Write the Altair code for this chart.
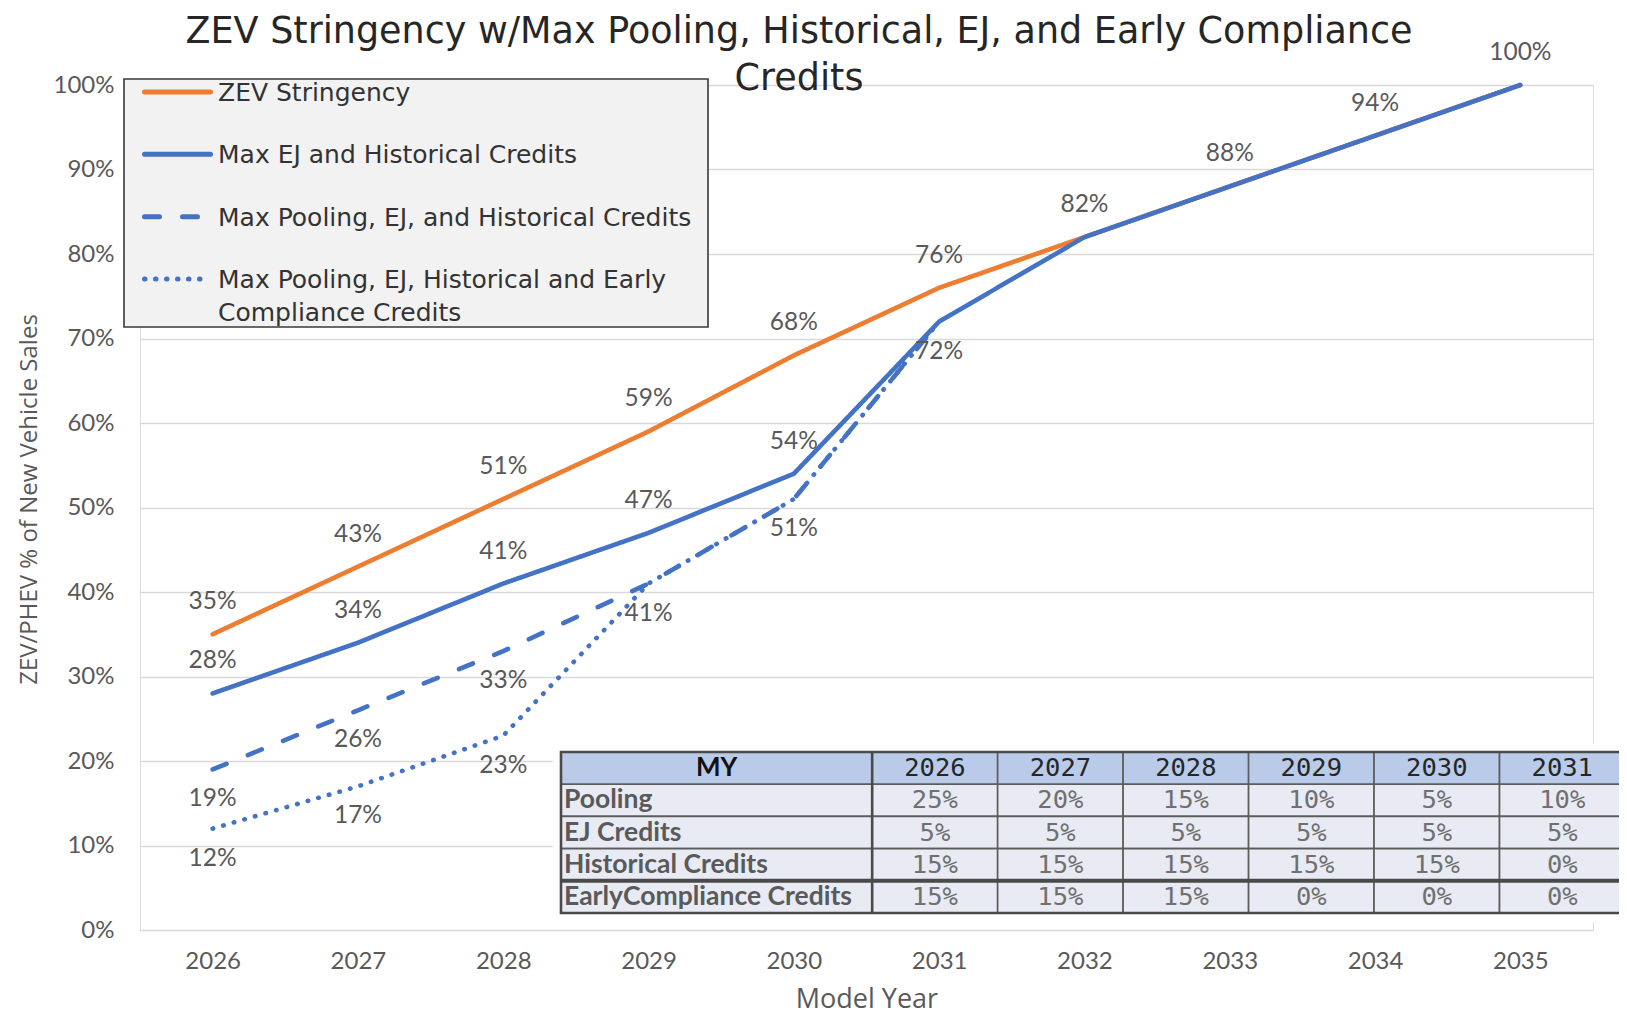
import textwrap
import altair as alt
import pandas as pd

# ---------------- data ----------------
years = [2026, 2027, 2028, 2029, 2030, 2031, 2032, 2033, 2034, 2035]
zev_stringency = [35, 43, 51, 59, 68, 76, 82, 88, 94, 100]
max_ej_historical = [28, 34, 41, 47, 54, 72, 82, 88, 94, 100]
max_pooling_ej_historical = [19, 26, 33, 41, 51, 72]
max_pooling_ej_historical_early = [12, 17, 23, 41, 51, 72]

series_names = [
    "ZEV Stringency",
    "Max EJ and Historical Credits",
    "Max Pooling, EJ, and Historical Credits",
    "Max Pooling, EJ, Historical and Early Compliance Credits",
]
series_values = [zev_stringency, max_ej_historical,
                 max_pooling_ej_historical, max_pooling_ej_historical_early]

title_lines = ["ZEV Stringency w/Max Pooling, Historical, EJ, and Early Compliance",
               "Credits"]
y_title = "ZEV/PHEV % of New Vehicle Sales"
x_title = "Model Year"
y_ticks = [0, 10, 20, 30, 40, 50, 60, 70, 80, 90, 100]

table_header = ["MY", "2026", "2027", "2028", "2029", "2030", "2031"]
table_row_labels = ["Pooling", "EJ Credits", "Historical Credits", "EarlyCompliance Credits"]
pooling = ["25%", "20%", "15%", "10%", "5%", "10%"]
ej_credits = ["5%", "5%", "5%", "5%", "5%", "5%"]
historical_credits = ["15%", "15%", "15%", "15%", "15%", "0%"]
early_compliance_credits = ["15%", "15%", "15%", "0%", "0%", "0%"]
table_values = [pooling, ej_credits, historical_credits, early_compliance_credits]

# ---------------- styles / layout ----------------
PLOT_W, PLOT_H = 1453, 845
FONT = "Lato"
SANS = "Open Sans"
LEG_FONT = "DejaVu Sans"
MONO = "DejaVu Sans Mono"
GRAY = "#595959"
ORANGE = "#ED7D31"
BLUE = "#4472C4"
series_colors = [ORANGE, BLUE, BLUE, BLUE]
series_dashes = [[1, 0], [1, 0], [15, 23], [0.5, 10.5]]
LINE_W = 4.6

X_DOM = [2025.5, 2035.5]
Y_DOM = [0, 100]

# ---------------- tables built from the data ----------------
line_rows = []
for name, vals in zip(series_names, series_values):
    for yr, v in zip(years, vals):
        line_rows.append({"series": name, "year": yr, "value": v})
lines_df = pd.DataFrame(line_rows)

above, below = [], []
for yr, v in zip(years, zev_stringency):
    above.append({"year": yr, "value": v, "label": f"{v}%"})
for i, (yr, v) in enumerate(zip(years, max_ej_historical)):
    dashed_v = max_pooling_ej_historical[i] if i < len(max_pooling_ej_historical) else None
    if v != zev_stringency[i] and v != dashed_v:
        above.append({"year": yr, "value": v, "label": f"{v}%"})
for i, v in enumerate(max_pooling_ej_historical):
    below.append({"year": years[i], "value": v, "label": f"{v}%"})
for i, v in enumerate(max_pooling_ej_historical_early):
    if v != max_pooling_ej_historical[i]:
        below.append({"year": years[i], "value": v, "label": f"{v}%"})
above_df = pd.DataFrame(above)
below_df = pd.DataFrame(below)


def xm(axis=None):
    if axis is None:
        return alt.X("year:Q", scale=alt.Scale(domain=X_DOM), axis=None)
    return alt.X("year:Q", scale=alt.Scale(domain=X_DOM), axis=axis)


def ym(axis=None):
    if axis is None:
        return alt.Y("value:Q", scale=alt.Scale(domain=Y_DOM), axis=None)
    return alt.Y("value:Q", scale=alt.Scale(domain=Y_DOM), axis=axis)


x_axis = alt.Axis(values=years, format="d", grid=False, domain=False, ticks=False,
                  tickSize=0, labelFont=FONT, labelFontSize=24, labelColor=GRAY,
                  labelPadding=31, labelBaseline="middle",
                  title=x_title, titleFont=SANS, titleFontSize=27,
                  titleFontWeight="normal", titleColor=GRAY, titleY=69,
                  titleBaseline="middle")
y_axis = alt.Axis(values=y_ticks, labelExpr="datum.value + '%'", grid=True,
                  gridColor="#d9d9d9", gridWidth=1.5, domain=False, ticks=False,
                  tickSize=0, labelFont=FONT, labelFontSize=24, labelColor=GRAY,
                  labelPadding=26, title=y_title, titleFont=SANS, titleFontSize=24,
                  titleFontWeight="normal", titleColor=GRAY, titleAngle=270,
                  titleX=-111, titleY=414, titleAlign="center", titleBaseline="middle")

layers = []
for k, name in enumerate(series_names):
    sub = lines_df[lines_df.series == name]
    enc = {"x": xm(x_axis if k == 0 else None), "y": ym(y_axis if k == 0 else None)}
    layers.append(
        alt.Chart(sub).mark_line(color=series_colors[k], strokeWidth=LINE_W,
                                 strokeDash=series_dashes[k], strokeCap="round",
                                 strokeJoin="round").encode(**enc)
    )

label_style = dict(font=FONT, fontSize=24.5, color=GRAY, align="center", baseline="middle")
layers.append(alt.Chart(above_df).mark_text(dy=-32, **label_style).encode(
    x=xm(), y=ym(), text="label:N"))
layers.append(alt.Chart(below_df).mark_text(dy=30, **label_style).encode(
    x=xm(), y=ym(), text="label:N"))

# ---------------- table ----------------
FIRST_W = 2.48
TABLE_UNITS = FIRST_W + 6
TX = alt.Scale(domain=[0, TABLE_UNITS], range=[421, 1485])
TY = alt.Scale(domain=[0, 5], range=[667, 828])

cells = []
for r in range(5):
    for c in range(7):
        x0 = 0 if c == 0 else FIRST_W + (c - 1)
        x1 = FIRST_W if c == 0 else FIRST_W + c
        if r == 0:
            text = table_header[c]
            kind = "head_label" if c == 0 else "head_year"
        else:
            text = table_row_labels[r - 1] if c == 0 else table_values[r - 1][c - 1]
            kind = "row_label" if c == 0 else "value"
        cells.append({"x0": x0, "x1": x1, "xc": (x0 + x1) / 2, "y0": r, "y1": r + 1,
                      "yc": r + 0.5, "text": text, "kind": kind,
                      "head": "head" if r == 0 else "body"})
cells_df = pd.DataFrame(cells)

# white backing behind table
layers.append(alt.Chart(pd.DataFrame({"a": [0]})).mark_rect(
    color="white", x=413, x2=1500, y=659, y2=837))

layers.append(alt.Chart(cells_df).mark_rect(stroke="#5c5c5c", strokeWidth=1.6).encode(
    x=alt.X("x0:Q", scale=TX, axis=None), x2="x1:Q",
    y=alt.Y("y0:Q", scale=TY, axis=None), y2="y1:Q",
    fill=alt.Fill("head:N", scale=alt.Scale(domain=["head", "body"],
                                            range=["#b9cbe9", "#e8ebf3"]), legend=None)))

# heavy separators
sep_df = pd.DataFrame({"y": [4], "x0": [0], "x1": [TABLE_UNITS]})
layers.append(alt.Chart(sep_df).mark_rule(color="#4a4a4a", strokeWidth=4).encode(
    x=alt.X("x0:Q", scale=TX, axis=None), x2="x1:Q",
    y=alt.Y("y:Q", scale=TY, axis=None)))
vsep_df = pd.DataFrame({"x": [FIRST_W], "y0": [0], "y1": [5]})
layers.append(alt.Chart(vsep_df).mark_rule(color="#4a4a4a", strokeWidth=2.6).encode(
    x=alt.X("x:Q", scale=TX, axis=None),
    y=alt.Y("y0:Q", scale=TY, axis=None), y2="y1:Q"))
outer_df = pd.DataFrame({"x0": [0], "x1": [TABLE_UNITS], "y0": [0], "y1": [5]})
layers.append(alt.Chart(outer_df).mark_rect(fillOpacity=0, stroke="#4a4a4a",
                                            strokeWidth=2.6).encode(
    x=alt.X("x0:Q", scale=TX, axis=None), x2="x1:Q",
    y=alt.Y("y0:Q", scale=TY, axis=None), y2="y1:Q"))


def table_text(kind, **style):
    return alt.Chart(cells_df).transform_filter(f"datum.kind == '{kind}'").mark_text(
        baseline="middle", **style).encode(
        x=alt.X("x0:Q" if style.get("align") == "left" else "xc:Q", scale=TX, axis=None),
        y=alt.Y("yc:Q", scale=TY, axis=None), text="text:N")


layers.append(table_text("head_label", font=FONT, fontSize=26, fontWeight="bold",
                         color="#111111", align="center"))
layers.append(table_text("head_year", font=MONO, fontSize=25.5, color="#262626",
                         align="center"))
layers.append(table_text("row_label", font=FONT, fontSize=26.5, fontWeight="bold",
                         color="#5a5a5a", align="left", dx=3))
layers.append(table_text("value", font=MONO, fontSize=25.5, color="#707070",
                         align="center"))

# ---------------- legend ----------------
legend_df = pd.DataFrame({
    "series": series_names,
    "row": list(range(len(series_names))),
    "label": ["|".join(textwrap.wrap(n, 39)) for n in series_names],
})
LY = alt.Scale(domain=[0, 3], range=[7, 194])

layers.append(alt.Chart(pd.DataFrame({"a": [0]})).mark_rect(
    fill="#f2f2f2", stroke="#3a3a3a", strokeWidth=1.6, x=-16, x2=568, y=-6, y2=242))
for k, name in enumerate(series_names):
    layers.append(alt.Chart(legend_df[legend_df.series == name]).mark_rule(
        color=series_colors[k], strokeWidth=5, strokeDash=series_dashes[k],
        strokeCap="round").encode(
        x=alt.value(4.5), x2=alt.value(70.5),
        y=alt.Y("row:Q", scale=LY, axis=None)))
layers.append(alt.Chart(legend_df).transform_calculate(
    lines="split(datum.label, '|')").mark_text(
    font=LEG_FONT, fontSize=25, color="#333333", align="left", baseline="alphabetic",
    dy=9, lineHeight=33).encode(
    x=alt.value(78), y=alt.Y("row:Q", scale=LY, axis=None), text="lines:N"))

# ---------------- title ----------------
layers.append(alt.Chart(pd.DataFrame({"a": [0]})).mark_text(
    text=title_lines, x=659, y=-42, align="center", baseline="alphabetic",
    font=LEG_FONT, fontSize=36.5, lineHeight=47, color="#262626"))

chart = alt.layer(*layers).resolve_scale(
    x="independent", y="independent", color="independent", fill="independent"
).properties(
    width=PLOT_W, height=PLOT_H,
    autosize=alt.AutoSizeParams(type="none"),
    padding={"left": 132, "top": 77, "right": 26, "bottom": 85},
).configure_view(strokeWidth=0).configure(background="white")

chart.save("out.html", embed_options={"renderer": "svg", "actions": False})
